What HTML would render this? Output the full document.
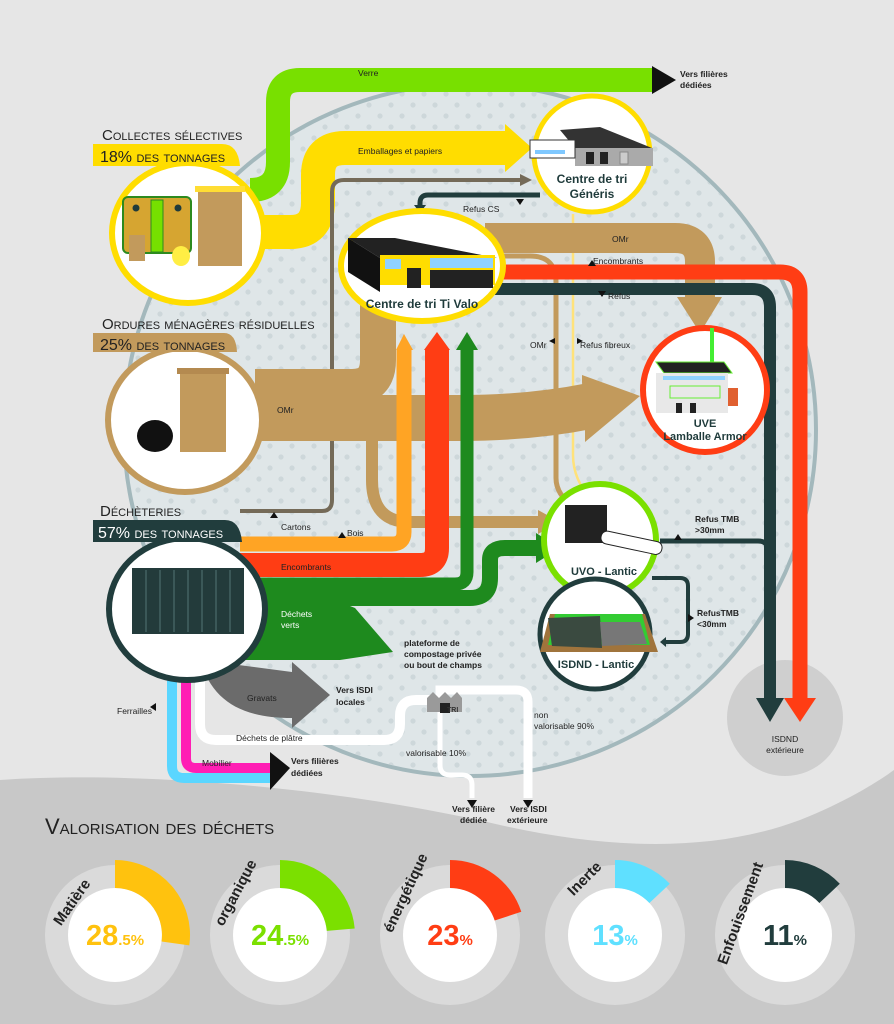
<!DOCTYPE html>
<html><head><meta charset="utf-8"><style>
html,body{margin:0;padding:0;background:#e6e6e6}
svg{display:block}
text{font-family:"Liberation Sans",sans-serif}
.t{font-size:8.5px;fill:#222}
.tb{font-size:8.5px;fill:#222;font-weight:bold}
.h{font-family:"Liberation Sans Narrow","Liberation Sans",sans-serif;font-variant:small-caps;font-size:15px;fill:#222}
.n{font-weight:bold;fill:#1f3b3b;font-size:12px}
</style></head><body>
<svg width="894" height="1024" viewBox="0 0 894 1024" xmlns="http://www.w3.org/2000/svg">
<defs>
<pattern id="dots" width="22" height="22" patternUnits="userSpaceOnUse">
<circle cx="6" cy="6" r="2.6" fill="#cdd7da"/><circle cx="17" cy="17" r="2.6" fill="#cdd7da"/>
</pattern>
</defs>
<rect width="894" height="1024" fill="#e6e6e6"/>
<path d="M0 780 C150 770 350 790 500 825 C620 852 720 850 800 820 C850 800 880 780 894 770 V1024 H0 Z" fill="#c8c8c8"/>
<circle cx="470" cy="430" r="346" fill="#dfe6e8" stroke="#a3b8bc" stroke-width="4"/>
<circle cx="470" cy="430" r="344" fill="url(#dots)"/>
<circle cx="785" cy="718" r="58" fill="#cfcfcf"/>
<text x="785" y="742" text-anchor="middle" class="t">ISDND</text>
<text x="785" y="753" text-anchor="middle" class="t">extérieure</text>

<g fill="none" stroke-linecap="butt">
<path d="M250 190 Q278 190 278 162 V102 Q278 80 300 80 H655" stroke="#78e000" stroke-width="24"/>
<path d="M255 232 H290 Q318 232 318 202 V175 Q318 148 345 148 H510" stroke="#ffdd00" stroke-width="34"/>
<path d="M240 511 H322 Q332 511 332 500 V192 Q332 180 344 180 H522" stroke="#746a58" stroke-width="4"/>
<path d="M540 195 H428 Q420 195 420 203 V206" stroke="#213d3d" stroke-width="5"/>
<path d="M490 256 H530 Q556 256 556 282 V478 Q556 495 575 508" stroke="#c29a5c" stroke-width="5"/>
<path d="M573 214 V455 Q573 480 592 500" stroke="#ffe27a" stroke-width="2.5"/>
<path d="M485 238 H675 Q700 238 700 262 V300" stroke="#c29a5c" stroke-width="30"/>
<path d="M495 272 H780 Q800 272 800 292 V700" stroke="#ff3d14" stroke-width="15"/>
<path d="M495 289 H752 Q770 289 770 307 V700" stroke="#213d3d" stroke-width="12"/>
<path d="M660 541 H758 Q768 541 768 551" stroke="#213d3d" stroke-width="5"/>
<path d="M652 578 H680 Q688 578 688 586 V634 Q688 642 680 642 H665" stroke="#213d3d" stroke-width="4"/>
<path d="M255 387 H352 Q378 387 378 360 V300" stroke="#c29a5c" stroke-width="36"/>
<path d="M255 418 H460 Q530 418 590 406" stroke="#c29a5c" stroke-width="46"/>
<path d="M372 410 V480 Q372 522 410 522 H540" stroke="#c29a5c" stroke-width="12"/>
<path d="M240 544 H392 Q404 544 404 532 V350" stroke="#ffa424" stroke-width="15"/>
<path d="M240 565 H420 Q437 565 437 548 V350" stroke="#ff3d14" stroke-width="24"/>
<path d="M250 584 H455 Q467 584 467 572 V350" stroke="#1e8a1e" stroke-width="13"/>
<path d="M250 598 H470 Q490 598 490 578 V560 Q490 548 505 548 H540" stroke="#1e8a1e" stroke-width="16"/>
<path d="M200 675 V724 Q200 740 216 740 H384 Q400 740 400 724 V716 Q400 700 416 700 H440" stroke="#fff" stroke-width="10"/>
<path d="M440 700 V690 H516 Q528 690 528 702 V798" stroke="#fff" stroke-width="9"/>
<path d="M440 700 V765 Q440 775 450 775 H462 Q472 775 472 785 V798" stroke="#fff" stroke-width="5"/>
<path d="M172 675 V766 Q172 778 184 778 H272" stroke="#5ad6ff" stroke-width="10"/>
<path d="M186 675 V758 Q186 768 196 768 H272" stroke="#ff1eb4" stroke-width="10"/>
</g>
<polygon points="652,66 676,80 652,94" fill="#111"/>
<polygon points="505,124 532,148 505,172" fill="#ffdd00"/>
<polygon points="520,174 532,180 520,186" fill="#746a58"/>
<polygon points="414,205 420,213 426,205" fill="#213d3d"/>
<polygon points="677,297 722,297 700,333" fill="#c29a5c"/>
<polygon points="582,375 640,396 585,442 585,430 582,382" fill="#c29a5c"/>
<polygon points="538,510 560,522 538,534" fill="#c29a5c"/>
<polygon points="568,500 583,512 566,512" fill="#c29a5c"/>
<polygon points="784,698 816,698 800,722" fill="#ff3d14"/>
<polygon points="756,698 784,698 770,722" fill="#213d3d"/>
<polygon points="666,637 660,642 666,647" fill="#213d3d"/>
<polygon points="396,350 413,350 404,334" fill="#ffa424"/>
<polygon points="424,350 450,350 437,332" fill="#ff3d14"/>
<polygon points="456,350 478,350 467,332" fill="#1e8a1e"/>
<polygon points="536,533 560,548 536,563" fill="#1e8a1e"/>
<polygon points="240,602 340,602 355,608 393,652 340,660 240,660" fill="#1e8a1e"/>
<path d="M200 660 L292 672 V662 L330 695 L292 728 V718 C240 718 212 700 200 660 Z" fill="#6b6b6b"/>
<polygon points="270,752 290,768 270,790" fill="#111"/>
<polygon points="467,800 477,800 472,808" fill="#111"/>
<polygon points="523,800 533,800 528,808" fill="#111"/>
<polygon points="270,518 274,512 278,518" fill="#111"/>
<polygon points="338,538 342,532 346,538" fill="#111"/>
<polygon points="516,199 520,205 524,199" fill="#111"/>
<polygon points="588,266 592,260 596,266" fill="#111"/>
<polygon points="598,291 602,297 606,291" fill="#111"/>
<polygon points="555,338 549,341 555,344" fill="#111"/>
<polygon points="577,338 583,341 577,344" fill="#111"/>
<polygon points="674,540 678,534 682,540" fill="#111"/>
<polygon points="688,614 694,618 688,622" fill="#111"/>
<polygon points="156,703 150,707 156,711" fill="#111"/>

<text x="358" y="76" class="t">Verre</text>
<text x="358" y="154" class="t">Emballages et papiers</text>
<text x="680" y="77" class="tb">Vers filières</text><text x="680" y="88" class="tb">dédiées</text>
<text x="463" y="212" class="t">Refus CS</text>
<text x="612" y="242" class="t">OMr</text>
<text x="593" y="264" class="t">Encombrants</text>
<text x="608" y="299" class="t">Refus</text>
<text x="530" y="348" class="t">OMr</text>
<text x="580" y="348" class="t">Refus fibreux</text>
<text x="277" y="413" class="t">OMr</text>
<text x="281" y="530" class="t">Cartons</text>
<text x="347" y="536" class="t">Bois</text>
<text x="281" y="570" class="t">Encombrants</text>
<text x="281" y="617" class="t" style="fill:#fff">Déchets</text><text x="281" y="628" class="t" style="fill:#fff">verts</text>
<text x="404" y="646" class="tb">plateforme de</text><text x="404" y="657" class="tb">compostage privée</text><text x="404" y="668" class="tb">ou bout de champs</text>
<text x="247" y="701" class="t">Gravats</text>
<text x="336" y="693" class="tb">Vers ISDI</text><text x="336" y="705" class="tb">locales</text>
<text x="117" y="714" class="t">Ferrailles</text>
<text x="236" y="741" class="t">Déchets de plâtre</text>
<text x="202" y="766" class="t">Mobilier</text>
<text x="291" y="764" class="tb">Vers filières</text><text x="291" y="776" class="tb">dédiées</text>
<text x="534" y="718" class="t">non</text><text x="534" y="729" class="t">valorisable 90%</text>
<text x="406" y="756" class="t">valorisable 10%</text>
<text x="452" y="812" class="tb">Vers filière</text><text x="460" y="823" class="tb">dédiée</text>
<text x="510" y="812" class="tb">Vers ISDI</text><text x="507" y="823" class="tb">extérieure</text>
<text x="695" y="522" class="tb">Refus TMB</text><text x="695" y="533" class="tb">&gt;30mm</text>
<text x="697" y="616" class="tb">RefusTMB</text><text x="697" y="627" class="tb">&lt;30mm</text>

<g><polygon points="427,712 427,698 433,692 439,698 445,692 451,698 457,692 462,698 462,712" fill="#9a9a9a"/><rect x="440" y="703" width="10" height="10" fill="#222"/><text x="447" y="712" font-size="7" fill="#333" font-weight="bold">TRI</text></g>

<!-- Collectes -->
<ellipse cx="188" cy="233" rx="76" ry="70" fill="#fff" stroke="#ffdd00" stroke-width="6"/>
<rect x="123" y="197" width="68" height="56" rx="5" fill="#d6a531" stroke="#2d8a1e" stroke-width="2"/>
<rect x="151" y="200" width="12" height="52" fill="#76e000" stroke="#2d8a1e"/>
<circle cx="136" cy="208" r="3.5" fill="#1f3b3b"/><circle cx="178" cy="208" r="3.5" fill="#1f3b3b"/>
<rect x="129" y="235" width="16" height="26" fill="#c29a5c"/>
<ellipse cx="181" cy="256" rx="9" ry="10" fill="#ffee44"/>
<rect x="198" y="190" width="44" height="76" fill="#c29a5c"/><rect x="195" y="186" width="50" height="6" fill="#ffdd33"/>
<path d="M93 144 H222 Q238 144 240 166 H93 Z" fill="#ffdd00"/>
<text x="102" y="140" class="h">Collectes sélectives</text>
<text x="100" y="162" class="h" style="font-size:16px">18% des tonnages</text>
<!-- OM -->
<ellipse cx="185" cy="420" rx="77" ry="72" fill="#fff" stroke="#c29a5c" stroke-width="6"/>
<rect x="180" y="372" width="46" height="80" fill="#c29a5c"/><rect x="177" y="368" width="52" height="6" fill="#b48a50"/>
<ellipse cx="155" cy="436" rx="18" ry="16" fill="#111"/>
<path d="M93 333 H224 Q236 333 237 352 H93 Z" fill="#c29a5c"/>
<text x="102" y="329" class="h">Ordures ménagères résiduelles</text>
<text x="100" y="350" class="h" style="font-size:16px">25% des tonnages</text>
<!-- Déchèterie -->
<ellipse cx="187" cy="609" rx="78" ry="71" fill="#fff" stroke="#213d3d" stroke-width="6"/>
<rect x="132" y="568" width="112" height="66" fill="#233b3b"/>
<g stroke="#3b5858" stroke-width="2"><line x1="146" y1="570" x2="146" y2="632"/><line x1="160" y1="570" x2="160" y2="632"/><line x1="174" y1="570" x2="174" y2="632"/><line x1="188" y1="570" x2="188" y2="632"/><line x1="202" y1="570" x2="202" y2="632"/><line x1="216" y1="570" x2="216" y2="632"/><line x1="230" y1="570" x2="230" y2="632"/></g>
<path d="M93 520 H225 Q240 520 242 542 H93 Z" fill="#213d3d"/>
<text x="100" y="516" class="h">Déchèteries</text>
<text x="98" y="538" class="h" style="font-size:16px;fill:#fff">57% des tonnages</text>
<!-- Généris -->
<circle cx="592" cy="154" r="58" fill="#fff" stroke="#ffdd00" stroke-width="5"/>
<polygon points="560,130 600,127 652,148 575,148" fill="#333"/>
<rect x="575" y="148" width="78" height="18" fill="#aaa"/>
<rect x="586" y="152" width="8" height="12" fill="#222"/><rect x="600" y="152" width="8" height="12" fill="#222"/><rect x="620" y="152" width="8" height="12" fill="#ccc" stroke="#888"/>
<rect x="530" y="140" width="45" height="18" fill="#fff" stroke="#333"/><rect x="535" y="150" width="30" height="4" fill="#7fc8ff"/>
<text x="592" y="183" text-anchor="middle" class="n">Centre de tri</text>
<text x="592" y="198" text-anchor="middle" class="n">Généris</text>
<!-- Ti Valo -->
<ellipse cx="422" cy="266" rx="81" ry="55" fill="#fff" stroke="#ffdd00" stroke-width="6"/>
<polygon points="348,238 395,238 497,258 380,258" fill="#222"/>
<polygon points="348,238 380,258 380,292 348,272" fill="#111"/>
<rect x="380" y="255" width="115" height="30" fill="#ffdd00"/>
<rect x="385" y="259" width="16" height="10" fill="#8fd2ff"/><rect x="430" y="258" width="63" height="10" fill="#8fd2ff"/>
<rect x="430" y="270" width="63" height="18" fill="#222"/><rect x="407" y="268" width="14" height="20" fill="#222"/>
<text x="422" y="308" text-anchor="middle" class="n">Centre de tri Ti Valo</text>
<!-- UVE -->
<circle cx="705" cy="390" r="62" fill="#fff" stroke="#ff3d14" stroke-width="6"/>
<rect x="710" y="328" width="4" height="34" fill="#44ee33"/>
<polygon points="656,362 724,362 732,373 664,373" fill="#222" stroke="#66ee33"/>
<rect x="656" y="373" width="72" height="40" fill="#e8e8e8"/>
<rect x="663" y="376" width="62" height="4" fill="#8fd2ff"/>
<rect x="670" y="386" width="50" height="12" fill="none" stroke="#66ee33"/>
<rect x="676" y="403" width="6" height="10" fill="#222"/><rect x="690" y="403" width="6" height="10" fill="#222"/>
<rect x="728" y="388" width="10" height="18" fill="#e06030"/>
<text x="705" y="427" text-anchor="middle" class="n" style="font-size:11px">UVE</text>
<text x="705" y="440" text-anchor="middle" class="n" style="font-size:11px">Lamballe Armor</text>
<!-- UVO -->
<circle cx="600" cy="540" r="56" fill="#fff" stroke="#7ae000" stroke-width="6"/>
<rect x="565" y="505" width="42" height="38" fill="#222"/>
<rect x="600" y="536" width="62" height="13" rx="6" fill="#fff" stroke="#222" transform="rotate(12 630 545)"/>
<text x="604" y="575" text-anchor="middle" class="n" style="font-size:11px">UVO - Lantic</text>
<!-- ISDND Lantic -->
<circle cx="595" cy="634" r="55" fill="#fff" stroke="#213d3d" stroke-width="5"/>
<polygon points="550,614 645,614 658,652 540,652" fill="#a0743c"/>
<polygon points="555,614 642,614 650,645 548,645" fill="#33cc33"/>
<polygon points="548,618 600,616 602,648 552,646" fill="#3a4a40"/>
<polygon points="600,622 640,622 647,644 602,646" fill="#777"/>
<text x="596" y="668" text-anchor="middle" class="n" style="font-size:11px">ISDND - Lantic</text>

<text x="45" y="834" font-family="Liberation Sans Narrow,Liberation Sans,sans-serif" font-size="22" style="font-variant:small-caps" fill="#222">Valorisation des déchets</text>
<g>
<circle cx="115" cy="935" r="70" fill="#dadada"/><circle cx="115" cy="935" r="47" fill="#fff"/>
<path d="M115 860 A75 75 0 0 1 189.3 945.4 L161.5 941.5 A47 47 0 0 0 115 888 Z" fill="#ffc20e"/>
<text x="115" y="945" text-anchor="middle" font-size="29" font-weight="bold" fill="#ffc20e">28<tspan font-size="15">.5%</tspan></text>
<text transform="translate(76 905) rotate(-55)" font-size="15" font-weight="bold" fill="#222" text-anchor="middle">Matière</text>

<circle cx="280" cy="935" r="70" fill="#dadada"/><circle cx="280" cy="935" r="47" fill="#fff"/>
<path d="M280 860 A75 75 0 0 1 354.7 928.5 L326.8 930.9 A47 47 0 0 0 280 888 Z" fill="#7be000"/>
<text x="280" y="945" text-anchor="middle" font-size="29" font-weight="bold" fill="#7be000">24<tspan font-size="15">.5%</tspan></text>
<text transform="translate(240 895) rotate(-62)" font-size="15" font-weight="bold" fill="#222" text-anchor="middle">organique</text>

<circle cx="450" cy="935" r="70" fill="#dadada"/><circle cx="450" cy="935" r="47" fill="#fff"/>
<path d="M450 860 A75 75 0 0 1 521.3 911.8 L494.7 920.5 A47 47 0 0 0 450 888 Z" fill="#ff3d14"/>
<text x="450" y="945" text-anchor="middle" font-size="29" font-weight="bold" fill="#ff3d14">23<tspan font-size="15">%</tspan></text>
<text transform="translate(410 895) rotate(-65)" font-size="15" font-weight="bold" fill="#222" text-anchor="middle">énergétique</text>

<circle cx="615" cy="935" r="70" fill="#dadada"/><circle cx="615" cy="935" r="47" fill="#fff"/>
<path d="M615 860 A75 75 0 0 1 669.8 883.8 L649.4 903 A47 47 0 0 0 615 888 Z" fill="#5fe0ff"/>
<text x="615" y="945" text-anchor="middle" font-size="29" font-weight="bold" fill="#5fe0ff">13<tspan font-size="15">%</tspan></text>
<text transform="translate(588 882) rotate(-45)" font-size="15" font-weight="bold" fill="#222" text-anchor="middle">Inerte</text>

<circle cx="785" cy="935" r="70" fill="#dadada"/><circle cx="785" cy="935" r="47" fill="#fff"/>
<path d="M785 860 A75 75 0 0 1 839.8 883.8 L819.4 903 A47 47 0 0 0 785 888 Z" fill="#213d3d"/>
<text x="785" y="945" text-anchor="middle" font-size="29" font-weight="bold" fill="#213d3d">11<tspan font-size="15">%</tspan></text>
<text transform="translate(745 915) rotate(-70)" font-size="15" font-weight="bold" fill="#222" text-anchor="middle">Enfouissement</text>
</g>
</svg>
</body></html>
